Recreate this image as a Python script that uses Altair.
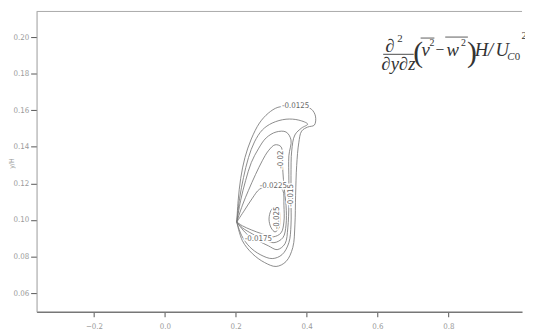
import altair as alt
import pandas as pd

# ---- contour levels and traced iso-lines (data coordinates) ----
levels = ["-0.0125", "-0.015", "-0.0175", "-0.02", "-0.0225", "-0.025"]

c1_x = [0.203, 0.207, 0.214, 0.226, 0.244, 0.267, 0.292, 0.319, 0.356, 0.392, 0.414, 0.425, 0.422,
        0.403, 0.386, 0.378, 0.372, 0.369, 0.367, 0.361, 0.342, 0.314, 0.281, 0.247, 0.219, 0.203]
c1_y = [0.0989, 0.1108, 0.1227, 0.1341, 0.1443, 0.1530, 0.1584, 0.1616, 0.1622, 0.1622, 0.1605, 0.1568, 0.1519,
        0.1508, 0.1486, 0.1422, 0.1297, 0.1135, 0.0973, 0.0849, 0.0773, 0.0746, 0.0768, 0.0816, 0.0886, 0.0989]

c2_x = [0.203, 0.211, 0.222, 0.236, 0.253, 0.275, 0.303, 0.342, 0.378, 0.403, 0.386, 0.367,
        0.358, 0.356, 0.356, 0.356, 0.350, 0.331, 0.303, 0.269, 0.239, 0.217, 0.203]
c2_y = [0.0989, 0.1119, 0.1232, 0.1341, 0.1427, 0.1492, 0.1530, 0.1551, 0.1546, 0.1524, 0.1503, 0.1465,
        0.1378, 0.1243, 0.1108, 0.0973, 0.0876, 0.0811, 0.0789, 0.0811, 0.0854, 0.0914, 0.0989]

c3_x = [0.203, 0.214, 0.228, 0.244, 0.264, 0.286, 0.314, 0.342, 0.356, 0.350,
        0.350, 0.350, 0.347, 0.339, 0.317, 0.292, 0.264, 0.231, 0.203]
c3_y = [0.0989, 0.1108, 0.1216, 0.1314, 0.1389, 0.1449, 0.1481, 0.1481, 0.1438, 0.1351,
        0.1216, 0.1081, 0.0957, 0.0870, 0.0838, 0.0859, 0.0886, 0.0924, 0.0989]

c4_x = [0.203, 0.219, 0.236, 0.256, 0.275, 0.292, 0.311, 0.328, 0.331,
        0.336, 0.342, 0.342, 0.333, 0.308, 0.281, 0.247, 0.219, 0.203]
c4_y = [0.0989, 0.1081, 0.1162, 0.1249, 0.1324, 0.1378, 0.1411, 0.1400, 0.1324,
        0.1189, 0.1081, 0.0973, 0.0903, 0.0876, 0.0892, 0.0924, 0.0957, 0.0989]

c5_x = [0.203, 0.225, 0.247, 0.267, 0.292, 0.319, 0.333, 0.336, 0.336,
        0.328, 0.306, 0.275, 0.244, 0.219, 0.203]
c5_y = [0.0989, 0.1054, 0.1119, 0.1168, 0.1184, 0.1184, 0.1162, 0.1081, 0.0989,
        0.0930, 0.0908, 0.0924, 0.0946, 0.0968, 0.0989]

c6_x = [0.311, 0.322, 0.325, 0.322, 0.311, 0.300, 0.294, 0.300, 0.311]
c6_y = [0.1076, 0.1054, 0.1005, 0.0957, 0.0935, 0.0957, 0.1005, 0.1054, 0.1076]

# contour labels
lab_text = ["-0.0125", "-0.015", "-0.0175", "-0.02", "-0.0225", "-0.025"]
lab_x = [0.369, 0.356, 0.264, 0.328, 0.306, 0.318]
lab_y = [0.1622, 0.1135, 0.0897, 0.1330, 0.1184, 0.1011]
lab_angle = [0, 270, 0, 270, 0, 270]

x_ticks = [-0.2, 0.0, 0.2, 0.4, 0.6, 0.8]
y_ticks = [0.06, 0.08, 0.10, 0.12, 0.14, 0.16, 0.18, 0.20]

# ---- build tables ----
rows = []
for lev, xs_, ys_ in zip(levels, [c1_x, c2_x, c3_x, c4_x, c5_x, c6_x], [c1_y, c2_y, c3_y, c4_y, c5_y, c6_y]):
    for i, (a, b) in enumerate(zip(xs_, ys_)):
        rows.append({"level": lev, "i": i, "x": a, "y": b})
df = pd.DataFrame(rows)
labels = pd.DataFrame({"t": lab_text, "x": lab_x, "y": lab_y, "a": lab_angle})

W, H = 493, 305
NARROW = "Liberation Sans Narrow, DejaVu Sans Condensed, sans-serif"
SERIF = "Liberation Serif, Times New Roman, serif"

xs = alt.Scale(domain=[-0.362, 1.008], nice=False, zero=False)
ys = alt.Scale(domain=[0.0498, 0.214], nice=False, zero=False)

lines = alt.Chart(df).mark_line(
    color="#777777", strokeWidth=0.85, interpolate="catmull-rom", clip=True
).encode(
    x=alt.X("x:Q", scale=xs, axis=alt.Axis(
        values=x_ticks, format=".1f", title=None, grid=False, tickSize=5, labelPadding=6,
        domainColor="#777", domainWidth=1.4, tickColor="#555", tickWidth=1,
        labelColor="#9a9a9a", labelFont=NARROW, labelFontSize=8)),
    y=alt.Y("y:Q", scale=ys, axis=alt.Axis(
        values=y_ticks, format=".2f", title="y/H", grid=False, tickSize=6, labelPadding=2,
        domainColor="#999", domainWidth=1, tickColor="#555", tickWidth=1,
        labelColor="#9a9a9a", labelFont=NARROW, labelFontSize=8,
        titleFont=NARROW, titleFontSize=7, titleFontWeight="normal", titleColor="#999",
        titleX=-25, titleY=154, titleBaseline="middle")),
    detail="level:N",
    order="i:Q",
)

halo = alt.Chart(labels).mark_text(
    font=NARROW, fontSize=8, stroke="white", strokeWidth=3, fill="white"
).encode(x=alt.X("x:Q", scale=xs), y=alt.Y("y:Q", scale=ys), text="t:N", angle=alt.Angle("a:Q", scale=None))

lab = alt.Chart(labels).mark_text(
    font=NARROW, fontSize=8, fill="#666"
).encode(x=alt.X("x:Q", scale=xs), y=alt.Y("y:Q", scale=ys), text="t:N", angle=alt.Angle("a:Q", scale=None))

one = pd.DataFrame({"k": [0]})


def txt(s, px, py, size=19, italic=True, align="center"):
    kw = dict(text=s, font=SERIF, fontSize=size, color="#333", align=align, baseline="alphabetic")
    if italic:
        kw["fontStyle"] = "italic"
    return alt.Chart(one).mark_text(**kw).encode(x=alt.value(px - 37), y=alt.value(py - 9))


def hline(x1, x2, py, w=0.9):
    return alt.Chart(one).mark_rule(color="#333", strokeWidth=w).encode(
        x=alt.value(x1 - 37), x2=alt.value(x2 - 37), y=alt.value(py - 9))


formula = [
    txt("\u2202", 396, 50), txt("2", 406, 40, 11, False),
    hline(389, 420, 52.5),
    txt("\u2202y\u2202z", 404.5, 68),
    txt("(", 424.5, 60, 30, False),
    txt("v", 432, 54), txt("2", 438.5, 44, 10, False), hline(427, 441, 36, 0.8),
    txt("\u2212", 446.5, 53, 16, False),
    txt("w", 459.5, 54), txt("2", 470.5, 44, 10, False), hline(452, 475, 35, 0.8),
    txt(")", 479, 60, 30, False),
    txt("H", 482, 54, 19, True, "left"), txt("/", 498, 54), txt("U", 503, 54, 19, True, "left"),
    txt("C", 515, 58, 11, True, "left"), txt("0", 522.5, 58, 11, False, "left"),
    txt("2", 529.5, 37, 11, False, "left"),
]

top_border = alt.Chart(one).mark_rule(color="#aaa", strokeWidth=1).encode(
    x=alt.value(0), x2=alt.value(W), y=alt.value(0))

chart = alt.layer(lines, halo, lab, top_border, *formula).properties(
    width=W, height=H,
    autosize=alt.AutoSizeParams(type="none"),
    padding={"left": 29, "top": 1, "right": 3, "bottom": 20},
    background="white",
).configure_view(stroke=None)

chart.save("out.html", embed_options={"renderer": "svg", "actions": False})
